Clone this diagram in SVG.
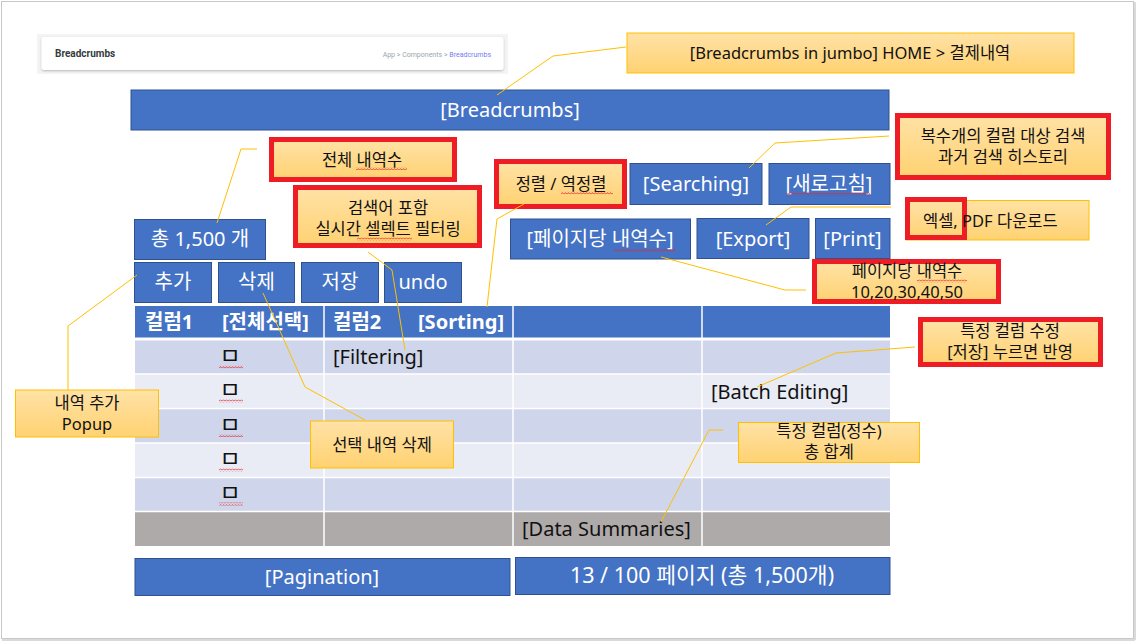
<svg xmlns="http://www.w3.org/2000/svg" width="1137" height="642" viewBox="0 0 1137 642">
<defs>
<linearGradient id="og" x1="0" y1="0" x2="0" y2="1">
<stop offset="0" stop-color="#ffe2a6"/>
<stop offset="1" stop-color="#ffd272"/>
</linearGradient>
<pattern id="wave" width="3" height="3" patternUnits="userSpaceOnUse">
<path d="M0 2.4 L1.5 0.6 L3 2.4" fill="none" stroke="#e8262b" stroke-width="0.8"/>
</pattern>
<filter id="sh" x="-5%" y="-30%" width="110%" height="160%">
<feDropShadow dx="0" dy="1" stdDeviation="1.2" flood-color="#000" flood-opacity="0.25"/>
</filter>
</defs>
<style>
.blue{fill:#4472c4;stroke:#2f528f;stroke-width:1;}
.bt{font-family:"Noto Sans","Noto Sans CJK KR",sans-serif;font-size:20px;fill:#fff;text-anchor:middle;}
.ob{fill:url(#og);stroke:#ffc000;stroke-width:1;}
.rb{fill:none;stroke:#ee1c25;stroke-width:5;}
.ct{font-family:"Noto Sans","Noto Sans CJK KR",sans-serif;font-size:16.5px;fill:#111;text-anchor:middle;}
.ht{font-family:"Noto Sans","Noto Sans CJK KR",sans-serif;font-size:20px;font-weight:bold;fill:#fff;}
.tt{font-family:"Noto Sans","Noto Sans CJK KR",sans-serif;font-size:20px;fill:#111;}
.ck{font-family:"Noto Sans CJK KR",sans-serif;font-size:23px;fill:#111;text-anchor:middle;}
.wv{fill:url(#wave);}
.ln{fill:none;stroke:#ffc000;stroke-width:1;}
</style>
<rect x="0" y="0" width="1137" height="642" fill="#fff"/>
<rect x="1.5" y="1.5" width="1132" height="637" fill="none" stroke="#c8c8c8" stroke-width="1"/>
<line x1="1135" y1="2" x2="1135" y2="640" stroke="#dadada" stroke-width="2"/>
<line x1="2" y1="640" x2="1135" y2="640" stroke="#dadada" stroke-width="2"/>

<g id="breadcrumb-screenshot">
<rect x="37" y="34" width="471" height="40" fill="#f4f4f5"/>
<rect x="41.5" y="37" width="462" height="33" rx="3" fill="#fff" filter="url(#sh)"/>
<text x="55" y="57" font-family="Roboto,sans-serif" font-size="10" font-weight="bold" fill="#343a40">Breadcrumbs</text>
<text x="491" y="56.5" font-family="Roboto,sans-serif" font-size="7" fill="#98a6ad" text-anchor="end">App  &gt;  Components  &gt;  <tspan fill="#727cf5">Breadcrumbs</tspan></text>
</g>

<g id="callout-jumbo">
<rect class="ob" x="627" y="33" width="447" height="40"/>
<text class="ct" x="850" y="58.5">[Breadcrumbs in jumbo] HOME &gt; 결제내역</text>
</g>

<g id="breadcrumbs-bar">
<rect class="blue" x="131" y="90" width="758" height="40"/>
<text class="bt" x="510" y="117">[Breadcrumbs]</text>
</g>

<g id="callout-total">
<rect class="ob" x="271.5" y="139.5" width="183" height="40"/>
<rect class="rb" x="271.5" y="139.5" width="183" height="40"/>
<text class="ct" x="362" y="165.5">전체 내역수</text>
<rect class="wv" x="356" y="167" width="51" height="3"/>
</g>

<g id="callout-filter">
<rect class="ob" x="295.5" y="187.5" width="184" height="58"/>
<rect class="rb" x="295.5" y="187.5" width="184" height="58"/>
<text class="ct" x="388" y="214">검색어 포함<tspan x="388" dy="21">실시간 셀렉트 필터링</tspan></text>
<rect class="wv" x="357" y="237.5" width="55" height="3"/>
</g>

<g id="callout-sort">
<rect class="ob" x="496.5" y="161.5" width="128" height="45"/>
<rect class="rb" x="496.5" y="161.5" width="128" height="45"/>
<text class="ct" x="561" y="189.5">정렬 / 역정렬</text>
<rect class="wv" x="561" y="191.5" width="52" height="3"/>
</g>

<g id="btn-searching">
<rect class="blue" x="630" y="163.5" width="132" height="41"/>
<text class="bt" x="696" y="191">[Searching]</text>
</g>

<g id="btn-refresh">
<rect class="blue" x="769" y="163.5" width="121" height="41"/>
<text class="bt" x="829" y="191">[새로고침]</text>
<rect class="wv" x="786" y="193" width="84" height="3"/>
</g>

<g id="callout-search">
<rect class="ob" x="897.5" y="115.5" width="211" height="62"/>
<rect class="rb" x="897.5" y="115.5" width="211" height="62"/>
<text class="ct" x="1003" y="142">복수개의 컬럼 대상 검색<tspan x="1003" dy="21">과거 검색 히스토리</tspan></text>
</g>

<g id="btn-total">
<rect class="blue" x="134.5" y="219.5" width="131" height="40"/>
<text class="bt" x="200" y="246">총 1,500 개</text>
</g>

<g id="btn-perpage">
<rect class="blue" x="510.5" y="219" width="180" height="40"/>
<text class="bt" x="600" y="246">[페이지당 내역수]</text>
<rect class="wv" x="614" y="248.5" width="62" height="3"/>
</g>

<g id="btn-export">
<rect class="blue" x="697" y="218.5" width="112" height="40"/>
<text class="bt" x="753" y="245.5">[Export]</text>
</g>

<g id="btn-print">
<rect class="blue" x="815.5" y="218.5" width="74.5" height="40"/>
<text class="bt" x="852.5" y="245.5">[Print]</text>
</g>

<g id="callout-export">
<rect class="ob" x="906" y="200.5" width="183" height="39.5"/>
<rect class="rb" x="907.5" y="199.5" width="57" height="38"/>
<text class="ct" x="923" y="226.5" style="text-anchor:start">엑셀, PDF 다운로드</text>
</g>

<g id="callout-perpage">
<rect class="ob" x="814.5" y="261.5" width="184" height="40"/>
<rect class="rb" x="814.5" y="261.5" width="184" height="40"/>
<text class="ct" x="907" y="277">페이지당 내역수<tspan x="907" dy="21">10,20,30,40,50</tspan></text>
<rect class="wv" x="917" y="279.5" width="50" height="3"/>
</g>

<g id="btn-add">
<rect class="blue" x="134.5" y="262.5" width="77" height="40"/>
<text class="bt" x="173" y="289">추가</text>
</g>
<g id="btn-delete">
<rect class="blue" x="218.5" y="262.5" width="76" height="40"/>
<text class="bt" x="256.5" y="289">삭제</text>
</g>
<g id="btn-save">
<rect class="blue" x="301.5" y="262.5" width="77" height="40"/>
<text class="bt" x="340" y="289">저장</text>
</g>
<g id="btn-undo">
<rect class="blue" x="384.5" y="262.5" width="77" height="40"/>
<text class="bt" x="423" y="289">undo</text>
</g>

<g id="table">
<rect x="135" y="306" width="755" height="32" fill="#4472c4"/>
<rect x="135" y="340" width="755" height="34" fill="#cfd5ea"/>
<rect x="135" y="374" width="755" height="34.5" fill="#e9ebf5"/>
<rect x="135" y="408.5" width="755" height="34.5" fill="#cfd5ea"/>
<rect x="135" y="443" width="755" height="34.5" fill="#e9ebf5"/>
<rect x="135" y="477.5" width="755" height="34" fill="#cfd5ea"/>
<rect x="135" y="511.5" width="755" height="34.5" fill="#aeaaaa"/>
<g stroke="#fff" fill="none">
<line x1="135" y1="339" x2="890" y2="339" stroke-width="3"/>
<line x1="135" y1="374" x2="890" y2="374" stroke-width="1.5"/>
<line x1="135" y1="408.5" x2="890" y2="408.5" stroke-width="1.5"/>
<line x1="135" y1="443" x2="890" y2="443" stroke-width="1.5"/>
<line x1="135" y1="477.5" x2="890" y2="477.5" stroke-width="1.5"/>
<line x1="135" y1="511.5" x2="890" y2="511.5" stroke-width="1.5"/>
<line x1="324" y1="306" x2="324" y2="546" stroke-width="1.5"/>
<line x1="513" y1="306" x2="513" y2="546" stroke-width="1.5"/>
<line x1="702" y1="306" x2="702" y2="546" stroke-width="1.5"/>
</g>
<text class="ht" x="145" y="329">컬럼1</text>
<text class="ht" x="222" y="329">[전체선택]</text>
<text class="ht" x="333" y="329">컬럼2</text>
<text class="ht" x="418" y="329">[Sorting]</text>
<text class="ck" x="230" y="364">ㅁ</text>
<text class="ck" x="230" y="398">ㅁ</text>
<text class="ck" x="230" y="432.5">ㅁ</text>
<text class="ck" x="230" y="467">ㅁ</text>
<text class="ck" x="230" y="501">ㅁ</text>
<rect class="wv" x="219" y="365.5" width="24" height="3"/>
<rect class="wv" x="219" y="399.5" width="24" height="3"/>
<rect class="wv" x="219" y="434" width="24" height="3"/>
<rect class="wv" x="219" y="468.5" width="24" height="3"/>
<rect class="wv" x="219" y="502.5" width="24" height="3"/>
<text class="tt" x="333" y="364">[Filtering]</text>
<text class="tt" x="711" y="399">[Batch Editing]</text>
<text class="tt" x="522" y="536">[Data Summaries]</text>
</g>

<g id="callout-batch">
<rect class="ob" x="920.5" y="319.5" width="180" height="45"/>
<rect class="rb" x="920.5" y="319.5" width="180" height="45"/>
<text class="ct" x="1010" y="336.5">특정 컬럼 수정<tspan x="1010" dy="21">[저장] 누르면 반영</tspan></text>
</g>

<g id="callout-summary">
<rect class="ob" x="738.5" y="422.5" width="181" height="40"/>
<text class="ct" x="829" y="437">특정 컬럼(정수)<tspan x="829" dy="21">총 합계</tspan></text>
</g>

<g id="callout-delete">
<rect class="ob" x="310.5" y="421" width="143" height="47"/>
<text class="ct" x="382" y="450.5">선택 내역 삭제</text>
</g>

<g id="callout-add">
<rect class="ob" x="15.5" y="390" width="143" height="47"/>
<text class="ct" x="87" y="408.5">내역 추가<tspan x="87" dy="21">Popup</tspan></text>
</g>

<g id="pagination">
<rect class="blue" x="135" y="558.5" width="375" height="37"/>
<text class="bt" x="322" y="584">[Pagination]</text>
</g>
<g id="page-info">
<rect class="blue" x="515.5" y="557.5" width="374.5" height="37"/>
<text class="bt" x="702" y="583" style="font-size:21.5px">13 / 100 페이지 (총 1,500개)</text>
</g>

<g id="connectors">
<polyline class="ln" points="626,47 553,56 497,95"/>
<polyline class="ln" points="257,149 241,149 217,223"/>
<polyline class="ln" points="368,252 392,270 405,350"/>
<polyline class="ln" points="524,204 497,219 487,307"/>
<polyline class="ln" points="889,136 775,143 749,168"/>
<polyline class="ln" points="891,207 791,207 766,225"/>
<polyline class="ln" points="661,257 785,290 806,290"/>
<polyline class="ln" points="915,347 836,353 757,387"/>
<polyline class="ln" points="723,430 709,430 661,522"/>
<polyline class="ln" points="263,293 305,387 365,420"/>
<polyline class="ln" points="137,275 68,326 68,390"/>
</g>
</svg>
